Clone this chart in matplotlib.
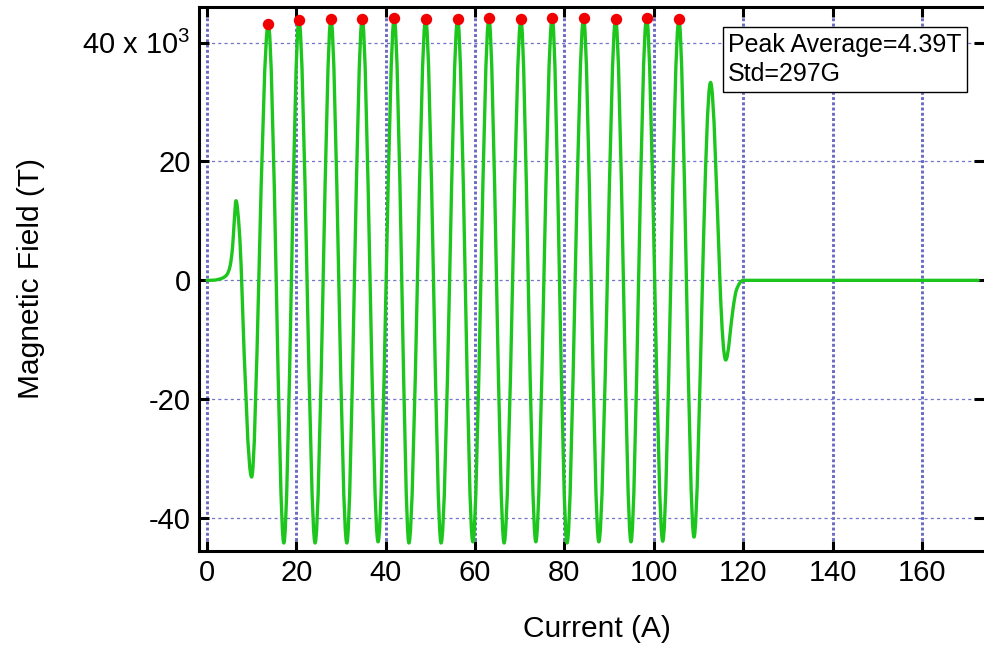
import numpy as np
import matplotlib.pyplot as plt
from matplotlib.path import Path
from matplotlib.patches import PathPatch

plt.rcParams['font.family'] = ['Liberation Sans', 'DejaVu Sans']
plt.rcParams['mathtext.fontset'] = 'custom'
plt.rcParams['mathtext.rm'] = 'Liberation Sans'

# trace knots: current (A) and field (x 10^3 T)
current = [0.0, 2.5, 4.4, 5.2, 5.74, 6.12, 6.49, 7.23, 7.76, 10.0, 11.6,
           13.72, 15.5, 17.2, 18.9, 20.59, 22.4, 24.2, 26.0, 27.75, 29.5,
           31.3, 33.0, 34.75, 36.5, 38.3, 40.1, 41.91, 43.6, 45.2, 47.1,
           48.94, 50.7, 52.4, 54.3, 56.1, 57.8, 59.5, 61.3, 63.1, 64.8,
           66.5, 68.4, 70.26, 71.9, 73.6, 75.4, 77.27, 78.9, 80.6, 82.4,
           84.29, 86.0, 87.7, 89.6, 91.45, 93.2, 94.9, 96.6, 98.39, 100.2,
           102.0, 103.8, 105.62, 107.3, 109.0, 110.9, 112.7, 114.8, 116.1,
           117.8, 118.5, 120.0, 172.6]
field = [0.0, 0.15, 0.9, 2.5, 5.7, 10.1, 13.4, 8.5, 0.0, -33.1, 0.0,
         43.15, 0.0, -44.2, 0.0, 43.8, 0.0, -44.2, 0.0, 44.0, 0.0,
         -44.2, 0.0, 44.0, 0.0, -44.0, 0.0, 44.1, 0.0, -44.2, 0.0,
         44.0, 0.0, -44.2, 0.0, 44.0, 0.0, -44.0, 0.0, 44.1, 0.0,
         -44.2, 0.0, 43.9, 0.0, -44.0, 0.0, 44.2, 0.0, -44.2, 0.0,
         44.1, 0.0, -44.0, 0.0, 43.9, 0.0, -44.0, 0.0, 44.2, 0.0,
         -43.9, 0.0, 43.9, 0.0, -43.2, 0.0, 33.3, 0.0, -13.4,
         -4.4, -1.6, 0.0, 0.0]

# detected peaks (red dots)
peak_current = [13.72, 20.59, 27.75, 34.75, 41.91, 48.94, 56.10, 63.10,
                70.26, 77.27, 84.29, 91.45, 98.39, 105.62]
peak_field = [43.15, 43.82, 43.99, 43.99, 44.1, 43.99, 43.99, 44.1,
              43.9, 44.2, 44.1, 43.9, 44.2, 43.9]

x_ticks = [0, 20, 40, 60, 80, 100, 120, 140, 160]
y_ticks = [-40, -20, 0, 20, 40]
y_tick_labels = ['-40', '-20', '0', '20', r'40 x 10$^{3}$']
stats_text = 'Peak Average=4.39T\nStd=297G'


def smooth_path(x, y):
    # cubic segments through the knots, flat at the turning points,
    # steeper (sine-like) where the trace swings through zero
    x = np.asarray(x, float)
    y = np.asarray(y, float)
    m = np.zeros_like(y)
    for i in range(1, len(x) - 1):
        if (y[i] - y[i - 1]) * (y[i + 1] - y[i]) > 0:
            m[i] = (y[i + 1] - y[i - 1]) / (x[i + 1] - x[i - 1])
            if y[i] == 0 and y[i - 1] * y[i + 1] < 0:
                m[i] *= 1.45
    verts = [(x[0], y[0])]
    codes = [Path.MOVETO]
    for i in range(len(x) - 1):
        h = x[i + 1] - x[i]
        verts += [(x[i] + h / 3, y[i] + m[i] * h / 3),
                  (x[i + 1] - h / 3, y[i + 1] - m[i + 1] * h / 3),
                  (x[i + 1], y[i + 1])]
        codes += [Path.CURVE4] * 3
    return Path(verts, codes)


fig = plt.figure(figsize=(9.84, 6.47), dpi=100)
ax = fig.add_axes([0.2022, 0.1488, 0.7978, 0.8404])

ax.set_xlim(-1.79, 173.9)
ax.set_ylim(-45.5, 46.0)

ax.set_xticks(x_ticks)
ax.set_yticks(y_ticks)
ax.set_yticklabels(y_tick_labels)

ax.grid(axis='x', color='#6a6ac4', linestyle=(0, (1, 0.8)), linewidth=2.1)
ax.grid(axis='y', color='#7474cc', linestyle=(0, (2.5, 2.5)), linewidth=0.9)
ax.set_axisbelow(True)

ax.add_patch(PathPatch(smooth_path(current, field), fill=False,
                       edgecolor='#1cc61c', linewidth=2.4,
                       capstyle='round', joinstyle='round', zorder=3))
ax.plot(peak_current, peak_field, 'o', color='#f00000', markersize=8.2,
        markeredgewidth=0, zorder=4)

for side in ['left', 'bottom', 'top']:
    ax.spines[side].set_linewidth(2.2)
ax.spines['right'].set_visible(False)
ax.tick_params(direction='in', length=7, width=2.2, top=True, right=True,
               labelsize=21, pad=6)

ax.set_xlabel('Current (A)', fontsize=21.5)
ax.set_ylabel('Magnetic Field (T)', fontsize=21.5)
ax.xaxis.set_label_coords(0.507, -0.118)
ax.yaxis.set_label_coords(-0.196, 0.5)

ax.text(0.674, 0.953, stats_text, transform=ax.transAxes, ha='left',
        va='top', fontsize=18, linespacing=1.3, zorder=5,
        bbox=dict(boxstyle='square,pad=0.22', facecolor='white',
                  edgecolor='black', linewidth=1))

fig.savefig('out.png', dpi=100)
